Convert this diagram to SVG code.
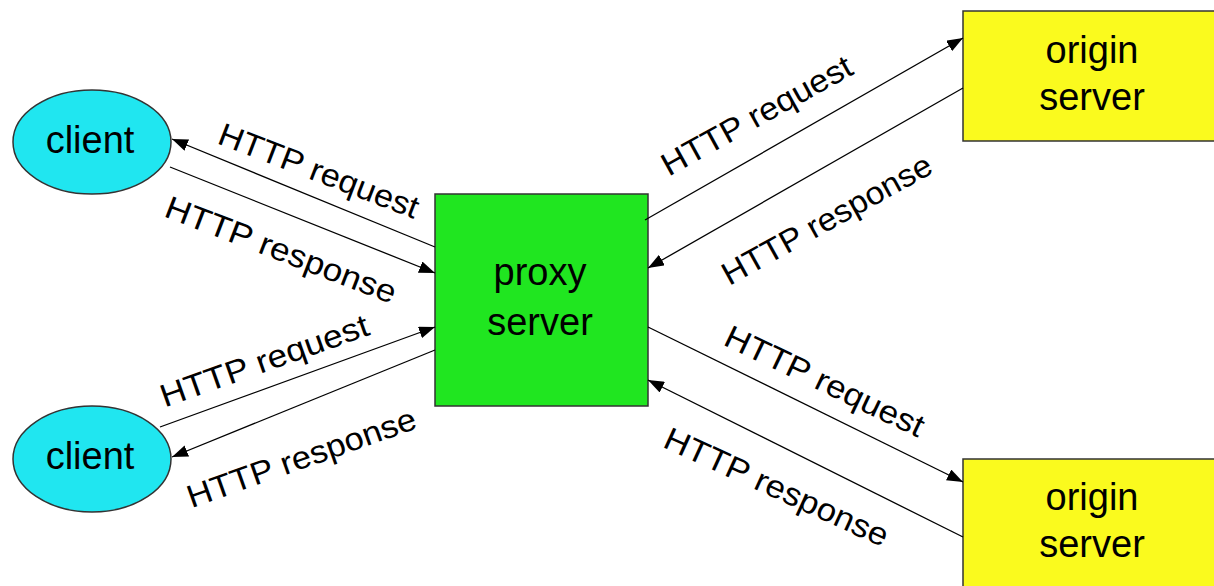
<svg xmlns="http://www.w3.org/2000/svg" width="1214" height="586" viewBox="0 0 1214 586">
<defs>
<marker id="ah" markerUnits="userSpaceOnUse" markerWidth="16" markerHeight="12" refX="16" refY="6" orient="auto">
<path d="M0,0 L16,6 L0,12 z" fill="#000"/>
</marker>
<style>
.node-text{font-family:"Liberation Sans",Arial,sans-serif;font-size:38px;fill:#000;text-anchor:middle}
.lbl{font-family:"Liberation Sans",Arial,sans-serif;font-size:32px;fill:#000;text-anchor:middle}
.conn{stroke:#000;stroke-width:1.3;fill:none;marker-end:url(#ah)}
.shape{stroke:#333;stroke-width:1.5}
</style>
</defs>
<rect width="1214" height="586" fill="#fff"/>
<g id="client1">
<ellipse class="shape" cx="92" cy="142" rx="79" ry="52" fill="#20E6F0"/>
<text class="node-text" x="90" y="153">client</text>
</g>
<g id="client2">
<ellipse class="shape" cx="92" cy="459" rx="79" ry="53" fill="#20E6F0"/>
<text class="node-text" x="90" y="469">client</text>
</g>
<g id="proxy">
<rect class="shape" x="435" y="194" width="213" height="212" fill="#20E620"/>
<text class="node-text" x="540" y="285">proxy</text>
<text class="node-text" x="540" y="335">server</text>
</g>
<g id="origin1">
<rect class="shape" x="963" y="11" width="270" height="130" fill="#FAFA1E"/>
<text class="node-text" x="1092" y="63">origin</text>
<text class="node-text" x="1092" y="110">server</text>
</g>
<g id="origin2">
<rect class="shape" x="963" y="459" width="270" height="150" fill="#FAFA1E"/>
<text class="node-text" x="1092" y="510">origin</text>
<text class="node-text" x="1092" y="557">server</text>
</g>
<g id="connectors">
<line class="conn" x1="435" y1="247" x2="172" y2="139"/>
<line class="conn" x1="170" y1="167" x2="435" y2="273"/>
<line class="conn" x1="160" y1="427" x2="435" y2="327"/>
<line class="conn" x1="435" y1="350" x2="172" y2="457"/>
<line class="conn" x1="645" y1="220" x2="963" y2="38"/>
<line class="conn" x1="963" y1="88" x2="648" y2="268"/>
<line class="conn" x1="648" y1="327" x2="963" y2="482"/>
<line class="conn" x1="963" y1="537" x2="648" y2="380"/>
</g>
<g id="labels">
<text class="lbl" textLength="212" lengthAdjust="spacingAndGlyphs" transform="translate(315,181) rotate(21)">HTTP request</text>
<text class="lbl" textLength="245" lengthAdjust="spacingAndGlyphs" transform="translate(277,260) rotate(21)">HTTP response</text>
<text class="lbl" textLength="219" lengthAdjust="spacingAndGlyphs" transform="translate(268,371) rotate(-19.5)">HTTP request</text>
<text class="lbl" textLength="241" lengthAdjust="spacingAndGlyphs" transform="translate(305,468) rotate(-19.5)">HTTP response</text>
<text class="lbl" textLength="213" lengthAdjust="spacingAndGlyphs" transform="translate(762,125) rotate(-29)">HTTP request</text>
<text class="lbl" textLength="235" lengthAdjust="spacingAndGlyphs" transform="translate(832,229) rotate(-29)">HTTP response</text>
<text class="lbl" textLength="217" lengthAdjust="spacingAndGlyphs" transform="translate(820,391) rotate(25.5)">HTTP request</text>
<text class="lbl" textLength="243" lengthAdjust="spacingAndGlyphs" transform="translate(772,497) rotate(24.5)">HTTP response</text>
</g>
</svg>
